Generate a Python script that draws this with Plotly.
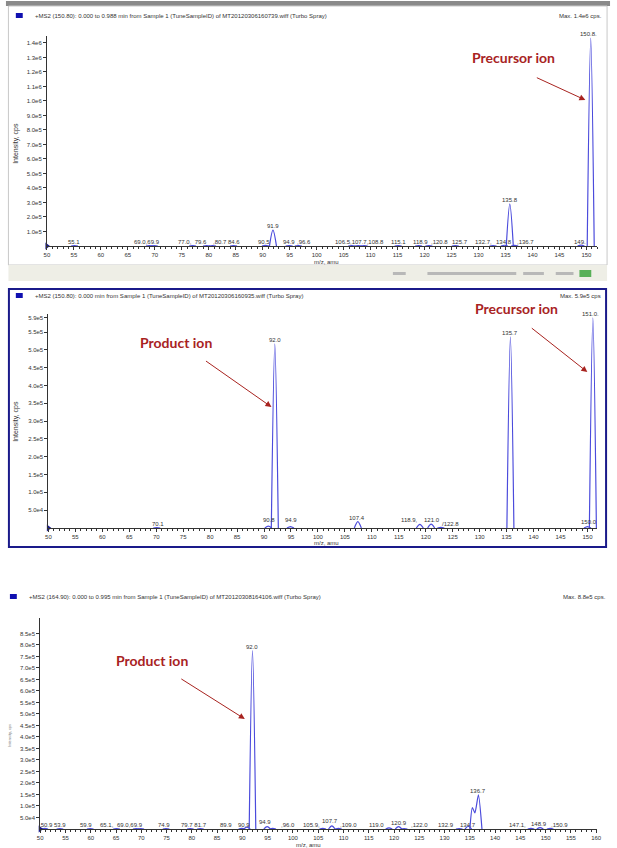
import plotly.graph_objects as go

W, H = 617, 848

# ------------------------------------------------------------------ data
# Panel 1 : +MS2 (150.80) precursor scan
p1_mz = [55.1, 69.0, 69.9, 77.0, 79.6, 80.7, 84.6, 90.5, 91.9, 94.9, 96.6, 106.5, 107.7,
         108.8, 115.1, 118.9, 120.8, 125.7, 132.7, 134.8, 135.8, 136.7, 149.0, 150.8]
p1_int = [2e3, 2e3, 2e3, 2e3, 2e3, 2e3, 2e3, 4e3, 1.1e5, 3e3, 2e3, 2e3, 3e3,
          2e3, 2e3, 2e3, 2e3, 2e3, 2e3, 5e3, 2.9e5, 4e3, 6e3, 1.434e6]
p1_lab_text = ["55.1", "69.0,69.9", "77.0,  79.6", ",80.7 84.6", "90.5", "91.9", "94.9",
               ",96.6", "106.5,107.7,108.8", "115.1", "118.9", ",120.8", "125.7",
               "132.7,", "134.8", ",136.7", "149.", "135.8", "150.8."]
p1_lab_mz = [55.1, 68.6, 76.9, 83.2, 90.3, 91.9, 94.9, 97.7, 107.9, 115.2, 119.2, 122.8,
             126.5, 130.9, 134.7, 138.7, 148.8, 135.8, 150.3]
p1_lab_int = [0, 0, 0, 0, 0, 1.1e5, 0, 0, 0, 0, 0, 0, 0, 0, 0, 0, 0, 2.9e5, 1.434e6]
p1_xticks = [50, 55, 60, 65, 70, 75, 80, 85, 90, 95, 100, 105, 110, 115, 120, 125,
             130, 135, 140, 145, 150]
p1_yticks = [1.0e5, 2.0e5, 3.0e5, 4.0e5, 5.0e5, 6.0e5, 7.0e5, 8.0e5, 9.0e5, 1.0e6,
             1.1e6, 1.2e6, 1.3e6, 1.4e6]
p1_yticklabels = ["1.0e5", "2.0e5", "3.0e5", "4.0e5", "5.0e5", "6.0e5", "7.0e5", "8.0e5",
                  "9.0e5", "1.0e6", "1.1e6", "1.2e6", "1.3e6", "1.4e6"]
p1_title = "+MS2 (150.80): 0.000 to 0.988 min from Sample 1 (TuneSampleID) of MT20120306160739.wiff (Turbo Spray)"
p1_max = "Max. 1.4e6 cps."

# Panel 2 : +MS2 (150.80) product scan
p2_mz = [70.1, 90.8, 92.0, 94.9, 107.4, 118.9, 121.0, 122.8, 135.7, 150.0, 151.0]
p2_int = [1e3, 5e3, 5.17e5, 4e3, 1.8e4, 1.0e4, 1.1e4, 2e3, 5.37e5, 4e3, 5.9e5]
p2_lab_text = ["70.1", "90.8", "92.0", "94.9", "107.4", "118.9,", "121.0", "/122.8",
               "135.7", "150.0", "151.0."]
p2_lab_mz = [70.3, 90.9, 92.0, 95.0, 107.3, 116.9, 121.2, 124.6, 135.7, 150.2, 150.5]
p2_lab_int = [0, 1.1e4, 5.17e5, 1.1e4, 1.8e4, 1.0e4, 1.1e4, 0, 5.37e5, 5e3, 5.9e5]
p2_xticks = p1_xticks
p2_yticks = [5.0e4, 1.0e5, 1.5e5, 2.0e5, 2.5e5, 3.0e5, 3.5e5, 4.0e5, 4.5e5, 5.0e5,
             5.5e5, 5.9e5]
p2_yticklabels = ["5.0e4", "1.0e5", "1.5e5", "2.0e5", "2.5e5", "3.0e5", "3.5e5",
                  "4.0e5", "4.5e5", "5.0e5", "5.5e5", "5.9e5"]
p2_title = "+MS2 (150.80): 0.000 min from Sample 1 (TuneSampleID) of MT20120306160935.wiff (Turbo Spray)"
p2_max = "Max. 5.9e5 cps"

# Panel 3 : +MS2 (164.90) product scan
p3_mz = [50.9, 53.9, 59.9, 65.1, 69.0, 69.9, 74.9, 79.7, 81.7, 89.9, 90.9, 92.0, 94.9,
         96.0, 105.9, 107.7, 109.0, 119.0, 120.9, 122.0, 132.9, 134.7, 147.1, 148.9, 150.9]
p3_int = [3e3, 2e3, 2e3, 2e3, 2e3, 2e3, 2e3, 2e3, 2e3, 3e3, 8e3, 7.75e5, 1.0e4,
          3e3, 3e3, 1.4e4, 3e3, 5e3, 1.0e4, 2e3, 2e3, 1.2e4, 3e3, 6e3, 3e3]
# unresolved 135-137 cluster profile
p3_cluster_mz = [135.0, 135.5, 136.0, 136.7, 137.4]
p3_cluster_int = [0, 9.3e4, 7.0e4, 1.48e5, 0]
p3_lab_text = [",50.9", "53.9", "59.9", "65.1,", "69.0,69.9", "74.9", "79.7 81.7",
               "89.9", "90.9", "92.0", "94.9", ",96.0", "105.9,", "107.7", ",109.0",
               "119.0", "120.9", ",122.0", "132.9", "134.7", "136.7", "147.1,",
               "148.9", ",150.9"]
p3_lab_mz = [51.2, 54.0, 59.0, 63.3, 67.8, 74.5, 80.4, 86.8, 90.3, 92.0, 94.4, 99.1,
             103.7, 107.4, 111.0, 116.5, 120.9, 125.1, 130.3, 134.6, 136.7, 144.5,
             148.6, 152.8]
p3_lab_int = [0, 0, 0, 0, 0, 0, 0, 0, 0, 7.75e5, 1.4e4, 0, 0, 1.6e4, 0, 0, 1.0e4, 0,
              0, 0, 1.48e5, 0, 6e3, 0]
p3_xticks = [50, 55, 60, 65, 70, 75, 80, 85, 90, 95, 100, 105, 110, 115, 120, 125,
             130, 135, 140, 145, 150, 155, 160]
p3_yticks = [5.0e4, 1.0e5, 1.5e5, 2.0e5, 2.5e5, 3.0e5, 3.5e5, 4.0e5, 4.5e5, 5.0e5,
             5.5e5, 6.0e5, 6.5e5, 7.0e5, 7.5e5, 8.0e5, 8.5e5]
p3_yticklabels = ["5.0e4", "1.0e5", "1.5e5", "2.0e5", "2.5e5", "3.0e5", "3.5e5",
                  "4.0e5", "4.5e5", "5.0e5", "5.5e5", "6.0e5", "6.5e5", "7.0e5",
                  "7.5e5", "8.0e5", "8.5e5"]
p3_title = "+MS2 (164.90): 0.000 to 0.995 min from Sample 1 (TuneSampleID) of MT20120308164106.wiff (Turbo Spray)"
p3_max = "Max. 8.8e5 cps."

# ------------------------------------------------------------------ style / layout helpers
def PX(px):
    return px / W


def PY(py):
    return 1 - py / H


LINE = "#4b4bdc"
TXT = "#333333"
RED = "#a8231f"
NAVY = "#1a1a8a"
FONT = "Liberation Sans"

panels = [
    dict(ax="", x0=44.5, x1=602, xmax=152.0, yb=246, yt=36, ymax=1.448e6, w=0.65),
    dict(ax="2", x0=46, x1=602, xmax=151.8, yb=528, yt=314, ymax=6.01e5, w=0.65),
    dict(ax="3", x0=37.7, x1=602, xmax=160.2, yb=829, yt=618, ymax=9.17e5, w=0.65),
]
data = [
    (p1_mz, p1_int, p1_lab_text, p1_lab_mz, p1_lab_int, p1_xticks, p1_yticks, p1_yticklabels),
    (p2_mz, p2_int, p2_lab_text, p2_lab_mz, p2_lab_int, p2_xticks, p2_yticks, p2_yticklabels),
    (p3_mz, p3_int, p3_lab_text, p3_lab_mz, p3_lab_int, p3_xticks, p3_yticks, p3_yticklabels),
]

fig = go.Figure()
annotations = []
shapes = []
layout = {}

for pn, (mz, inten, lt, lm, li, xt, yt, ytl) in zip(panels, data):
    a = pn["ax"]
    xr, yr = "x" + a, "y" + a
    w = pn["w"]
    xs, ys = [], []
    for m, h in zip(mz, inten):
        xs += [m - w, m, m + w, None]
        ys += [0, h, 0, None]
    fig.add_trace(go.Scatter(x=xs, y=ys, mode="lines", xaxis=xr, yaxis=yr,
                             line=dict(color=LINE, width=1.2, shape="spline", smoothing=0.9),
                             hoverinfo="skip", showlegend=False, connectgaps=False))
    if a == "3":
        fig.add_trace(go.Scatter(x=p3_cluster_mz, y=p3_cluster_int, mode="lines",
                                 xaxis=xr, yaxis=yr,
                                 line=dict(color=LINE, width=1.2, shape="spline", smoothing=0.6),
                                 hoverinfo="skip", showlegend=False))
    # origin marker
    fig.add_trace(go.Scatter(x=[xt[0]], y=[0], mode="markers", xaxis=xr, yaxis=yr,
                             marker=dict(symbol="triangle-right", size=6, color=NAVY),
                             cliponaxis=False, hoverinfo="skip", showlegend=False))
    for t, m, h in zip(lt, lm, li):
        annotations.append(dict(x=m, y=h, xref=xr, yref=yr, text=t, showarrow=False,
                                yanchor="bottom", xanchor="center", yshift=-1,
                                font=dict(size=6, color=TXT, family=FONT)))
    layout["xaxis" + a] = dict(
        domain=[PX(pn["x0"]), PX(pn["x1"])], range=[xt[0], pn["xmax"]], anchor=yr,
        tickmode="array", tickvals=xt, ticktext=[str(v) for v in xt],
        ticks="outside", ticklen=3, tickwidth=1, tickcolor=TXT,
        showline=True, linecolor=TXT, linewidth=1, showgrid=False, zeroline=False,
        tickfont=dict(size=6, color=TXT, family=FONT),
        minor=dict(tickmode="linear", tick0=xt[0], dtick=1, ticks="outside",
                   ticklen=1.5, tickcolor=TXT, showgrid=False),
        fixedrange=True)
    layout["yaxis" + a] = dict(
        domain=[PY(pn["yb"]), PY(pn["yt"])], range=[0, pn["ymax"]], anchor=xr,
        tickmode="array", tickvals=yt, ticktext=ytl,
        ticks="outside", ticklen=3, tickwidth=1, tickcolor=TXT,
        showline=True, linecolor=TXT, linewidth=1, showgrid=False, zeroline=False,
        tickfont=dict(size=6, color=TXT, family=FONT), fixedrange=True)


def paper_text(x, y, text, size=6, color=TXT, anchor="left", angle=0, bold=False):
    annotations.append(dict(x=PX(x), y=PY(y), xref="paper", yref="paper", text=text,
                            showarrow=False, xanchor=anchor, yanchor="middle",
                            textangle=angle,
                            font=dict(size=size, color=color, family=FONT if not bold else "Lato",
                                      weight=700 if bold else 400)))


def arrow(hx, hy, tx, ty):
    annotations.append(dict(x=PX(hx), y=PY(hy), xref="paper", yref="paper", text="",
                            showarrow=True, ax=tx - hx, ay=ty - hy, axref="pixel",
                            ayref="pixel", arrowhead=2, arrowsize=1.2, arrowwidth=1,
                            arrowcolor=RED, standoff=0, startstandoff=0))


def rect(x0, y0, x1, y1, line=None, fill=None, lw=1):
    shapes.append(dict(type="rect", xref="paper", yref="paper", x0=PX(x0), x1=PX(x1),
                       y0=PY(y1), y1=PY(y0), layer="below",
                       line=dict(color=line or "rgba(0,0,0,0)", width=lw if line else 0),
                       fillcolor=fill or "rgba(0,0,0,0)"))


# panel 1 window frame
rect(3, 1, 615, 6, fill="#8a8a8a")
rect(5.5, 6, 612, 265, line="#c8c8c8", lw=1)
rect(5.5, 265, 612, 281, fill="#eeeee6")
for gx0, gx1 in [(395, 408), (430, 520), (527, 548), (560, 578)]:
    rect(gx0, 272, gx1, 275, fill="#b8b8b8")
rect(584, 270, 596, 277, fill="#58b058")
# panel 2 frame
rect(6, 289, 611, 547, line=NAVY, lw=2)

# title rows
rect(13, 13, 20, 18, fill="#1010b0")
paper_text(30, 16, p1_title)
paper_text(609, 16, p1_max, anchor="right")
rect(13, 293, 20, 298, fill="#1010b0")
paper_text(30, 296, p2_title)
paper_text(608, 296, p2_max, anchor="right")
rect(7, 594, 14, 599, fill="#1010b0")
paper_text(24, 597, p3_title)
paper_text(613, 597, p3_max, anchor="right")

# axis titles
paper_text(13, 143, "Intensity, cps", size=7, anchor="center", angle=-90)
paper_text(13, 421, "Intensity, cps", size=7, anchor="center", angle=-90)
paper_text(6, 735, "Intensity, cps", size=4, color="#777777", anchor="center", angle=-90)
paper_text(328, 262, "m/z, amu", size=6, anchor="center")
paper_text(328, 543, "m/z, amu", size=6, anchor="center")
paper_text(310, 845, "m/z, amu", size=6, anchor="center")

# red call-outs
paper_text(517, 57, "Precursor ion", size=14, color=RED, anchor="center", bold=True)
arrow(590, 100, 540, 77)
paper_text(520, 308, "Precursor ion", size=14, color=RED, anchor="center", bold=True)
arrow(592, 372, 535, 327)
paper_text(175, 342, "Product ion", size=14, color=RED, anchor="center", bold=True)
arrow(272, 407, 205, 360)
paper_text(151, 660, "Product ion", size=14, color=RED, anchor="center", bold=True)
arrow(245, 719, 180, 678)

fig.update_layout(width=W, height=H, margin=dict(l=0, r=0, t=0, b=0),
                  paper_bgcolor="white", plot_bgcolor="white",
                  annotations=annotations, shapes=shapes, **layout)

fig.write_html("out.html", config={"displayModeBar": False})
